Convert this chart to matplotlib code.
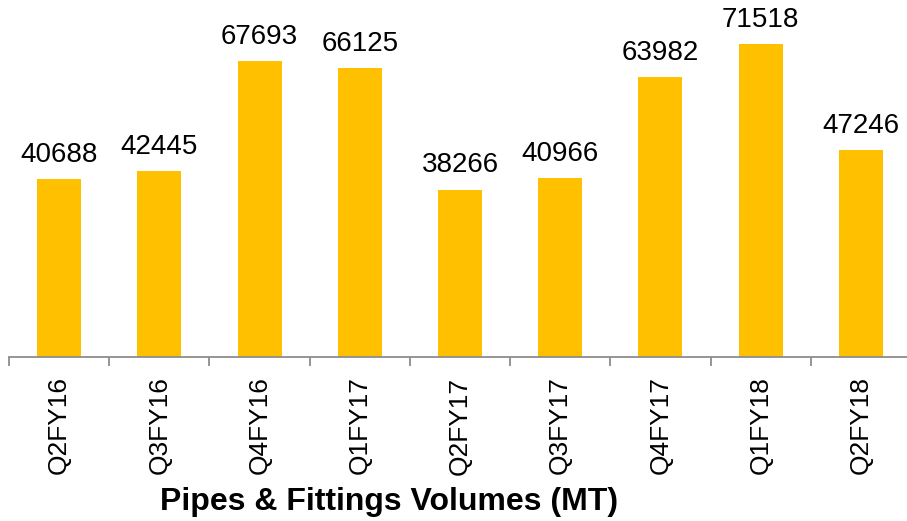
import matplotlib.pyplot as plt
from matplotlib.ticker import FixedLocator

plt.rcParams["font.family"] = ["Liberation Sans", "DejaVu Sans"]

# Data
quarters = ["Q2FY16", "Q3FY16", "Q4FY16", "Q1FY17", "Q2FY17",
            "Q3FY17", "Q4FY17", "Q1FY18", "Q2FY18"]
volumes = [40688, 42445, 67693, 66125, 38266, 40966, 63982, 71518, 47246]

BAR_COLOR = "#FFC000"
AXIS_COLOR = "#8C8C8C"

fig = plt.figure(figsize=(9.07, 5.21), dpi=100)
W, H = 907, 521
ax = fig.add_axes([9 / W, (H - 357) / H, 902 / W, 350 / H])

x = list(range(len(quarters)))
bars = ax.bar(x, volumes, width=0.44, color=BAR_COLOR)
ax.bar_label(bars, labels=[str(v) for v in volumes], padding=8, fontsize=20)

ax.set_xlim(-0.5, len(quarters) - 0.5)
ax.set_ylim(0, 80000)

for side in ["top", "right", "left"]:
    ax.spines[side].set_visible(False)
ax.spines["bottom"].set_color(AXIS_COLOR)
ax.spines["bottom"].set_linewidth(1.3)
ax.set_yticks([])

ax.set_xticks(x)
ax.set_xticklabels(quarters, rotation=90, fontsize=19)
ax.tick_params(axis="x", which="major", length=0, pad=14)
ax.xaxis.set_minor_locator(FixedLocator([i - 0.5 for i in range(len(quarters) + 1)]))
ax.tick_params(axis="x", which="minor", length=6.5, width=1.3, color=AXIS_COLOR)

fig.text(389 / W, (H - 510) / H, "Pipes & Fittings Volumes (MT)",
         ha="center", va="baseline", fontsize=23, fontweight="bold")

fig.savefig("out.png", dpi=100)
